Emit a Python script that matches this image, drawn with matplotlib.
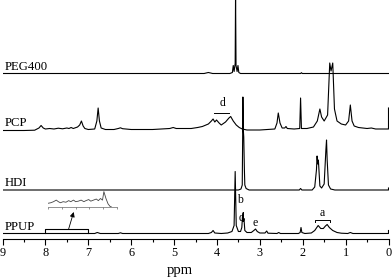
import matplotlib
matplotlib.use("Agg")
import matplotlib.pyplot as plt
from matplotlib.ticker import MultipleLocator

plt.rcParams['font.family'] = ['Liberation Serif', 'DejaVu Serif']

# traced spectra: ppm positions and intensity (px above own baseline)
peg_ppm = [9.0, 4.30, 4.20, 4.10, 3.70, 3.64, 3.62, 3.60, 3.575, 3.566, 3.555, 3.53, 3.51, 3.49, 3.45,
           2.05, 2.03, 2.01, 0.0]
peg_int = [0, 0, 1, 0, 0, 1, 8, 2, 10, 80, 8, 2, 8, 1, 0,
           0, 0.8, 0, 0]

pcp_ppm = [9.0, 8.5, 8.25, 8.15, 8.10, 8.05, 8.0, 7.9, 7.8, 7.7, 7.6, 7.5, 7.45, 7.4, 7.35, 7.25,
           7.20, 7.16, 7.12, 7.08, 7.0, 6.85, 6.80, 6.77, 6.74, 6.70, 6.6, 6.4, 6.3, 6.25, 6.2,
           6.0, 5.5, 5.1, 5.02, 4.95, 4.6, 4.45, 4.34, 4.2, 4.13, 4.09, 4.05, 4.01, 3.95, 3.90,
           3.80, 3.72, 3.68, 3.62, 3.55, 3.48, 3.41, 3.3, 3.0, 2.65, 2.60, 2.57, 2.53, 2.48,
           2.42, 2.39, 2.36, 2.2, 2.07, 2.05, 2.03, 1.9, 1.75, 1.66, 1.60, 1.56, 1.50, 1.42,
           1.37, 1.34, 1.30, 1.26, 1.20, 1.10, 1.0, 0.93, 0.89, 0.85, 0.8, 0.7, 0.5, 0.4,
           0.3, 0.01, 0.0, 0.0]
pcp_int = [-1.5, -1.5, -1.2, 1, 3.5, 1, 0, 0.5, 0, 0.8, 0.2, 1, 0.5, 1.5, 0.5, 2,
           4, 8, 3, 0.5, -0.5, 0, 8, 21, 8, 1, -0.5, -0.5, 0.5, 1.2, 0.3,
           -0.5, -0.5, 0.5, 1.5, 0.5, 0.5, 1.5, 2.5, 5, 8, 10, 7, 9, 6, 4,
           7, 11, 12.5, 8, 4, 1.5, 0, -1, -1, 0, 6, 16, 6, 1,
           1, 2.5, 0.5, 0, 0.5, 31, 0.5, 0.5, 2, 8, 20, 12, 8, 14,
           66, 58, 66, 20, 8, 5, 4, 8, 24, 8, 3, 1.5, 0.5, 1,
           0, 0, 0, 21]

hdi_ppm = [9.0, 3.50, 3.44, 3.41, 3.40, 3.395, 3.385, 3.375, 3.36, 3.35, 3.32, 3.25,
           2.08, 2.05, 2.02, 1.78, 1.72, 1.68, 1.665, 1.65, 1.635, 1.60, 1.56, 1.50,
           1.46, 1.445, 1.43, 1.40, 1.35, 1.25, 0.0, 0.0]
hdi_int = [0, 0, 1, 5, 55, 93, 60, 53, 20, 5, 1.5, 0,
           0, 1.5, 0, 0, 3, 20, 34, 26, 30, 4, 2, 6,
           40, 50, 30, 5, 1, 0, 0, 2]

ppup_ppm = [9.0, 6.85, 6.79, 6.72, 6.3, 6.25, 6.2, 4.2, 4.13, 4.09, 4.05, 3.9, 3.75, 3.65,
            3.60, 3.575, 3.55, 3.50, 3.45, 3.42, 3.40, 3.385, 3.37, 3.35, 3.30, 3.20, 3.14,
            3.10, 3.06, 3.0, 2.88, 2.84, 2.81, 2.6, 2.56, 2.52, 2.1, 2.06, 2.04, 2.02, 1.95,
            1.80, 1.72, 1.64, 1.58, 1.52, 1.47, 1.43, 1.38, 1.30, 1.2, 1.1, 0.95, 0.89, 0.83,
            0.0, 0.0]
ppup_int = [0, 0, 1, 0, 0, 0.7, 0, 0, 1, 3, 0.5, 0, 0.5, 2,
            8, 62, 8, 2, 2, 6, 20, 12, 15, 3, 1, 1, 3,
            4.5, 2, 0.5, 0.5, 2.5, 0.3, 0, 1, 0, 0, 1, 6, 1, 0,
            0.5, 3, 8, 5, 5, 7.5, 9, 6, 3, 1, 0.3, 0, 1, 0,
            0, 3]

# zoomed 8-7 ppm region of PPUP
inset_ppm = [8.00, 7.96, 7.92, 7.88, 7.85, 7.82, 7.78, 7.74, 7.70, 7.67, 7.63, 7.60, 7.56,
             7.52, 7.48, 7.45, 7.41, 7.38, 7.34, 7.30, 7.27, 7.24, 7.21, 7.19, 7.16, 7.13,
             7.10, 7.08]
inset_int = [3.5, 4, 5, 6.5, 5, 4, 5, 4.5, 6, 5, 6.5, 5, 5.5,
             6.5, 5, 6, 7, 5.5, 6.5, 7.5, 6, 8, 6.5, 14.5, 8, 3,
             0.5, 0]

names = ['PEG400', 'PCP', 'HDI', 'PPUP']
offsets = [165, 109.5, 48.5, 5]

fig = plt.figure(figsize=(3.92, 2.79), dpi=100)
ax = fig.add_axes([2.5 / 392, 1 - 238.5 / 279, 386 / 392, 238.5 / 279])

spectra = [(peg_ppm, peg_int), (pcp_ppm, pcp_int), (hdi_ppm, hdi_int), (ppup_ppm, ppup_int)]
for (x, y), off, name in zip(spectra, offsets, names):
    ax.plot(x, [v + off for v in y], color='black', lw=0.8)
    ax.text(8.94, off + 3.5, name, fontsize=9.2, ha='left', va='baseline')

ax.set_xlim(9, 0)
ax.set_ylim(0, 238.5)
for s in ['left', 'right', 'top']:
    ax.spines[s].set_visible(False)
ax.spines['bottom'].set_linewidth(0.8)
ax.set_yticks([])
ax.xaxis.set_major_locator(MultipleLocator(1))
ax.xaxis.set_minor_locator(MultipleLocator(0.5))
ax.tick_params(axis='x', which='major', length=4.5, width=0.8, labelsize=8.8, pad=1.5)
ax.tick_params(axis='x', which='minor', length=2.5, width=0.8)
fig.text(180 / 392, 2 / 279, 'ppm', fontsize=10.5, ha='center', va='bottom')

# peak labels and brackets
ax.plot([4.06, 3.71], [125.8, 125.8], color='black', lw=0.7)
ax.text(3.88, 129, 'd', fontsize=8.5, ha='center', va='bottom')
ax.plot([1.72, 1.72, 1.37, 1.37], [17, 18.5, 18.5, 17], color='black', lw=0.7)
ax.text(1.545, 19.5, 'a', fontsize=8.5, ha='center', va='bottom')
ax.text(3.46, 38.5, 'b', fontsize=8.5, ha='center', va='center')
ax.text(3.43, 20.8, 'd', fontsize=8.5, ha='center', va='center')
ax.text(3.10, 15.2, 'e', fontsize=8.5, ha='center', va='center')

ax.plot([8, 8, 7, 7], [5.8, 9.2, 9.2, 5.8], color='black', lw=0.8)
ax.annotate('', xy=(7.34, 26.5), xytext=(7.46, 9.2),
            arrowprops=dict(arrowstyle='-|>', color='black', lw=0.6, mutation_scale=7,
                            shrinkA=0, shrinkB=0))

iax = fig.add_axes([48 / 392, 1 - 207 / 279, 69 / 392, 17 / 279])
iax.plot(inset_ppm, inset_int, color='#444444', lw=0.6)
iax.set_xlim(8.0, 7.0)
iax.set_ylim(0, 16)
iax.patch.set_alpha(0)
for s in ['left', 'right', 'top']:
    iax.spines[s].set_visible(False)
iax.spines['bottom'].set_linewidth(0.5)
iax.spines['bottom'].set_color('#666666')
iax.set_yticks([])
iax.xaxis.set_major_locator(MultipleLocator(0.2))
iax.tick_params(axis='x', length=1.5, width=0.5, color='#666666', labelbottom=False)

fig.savefig('out.png', dpi=100)
